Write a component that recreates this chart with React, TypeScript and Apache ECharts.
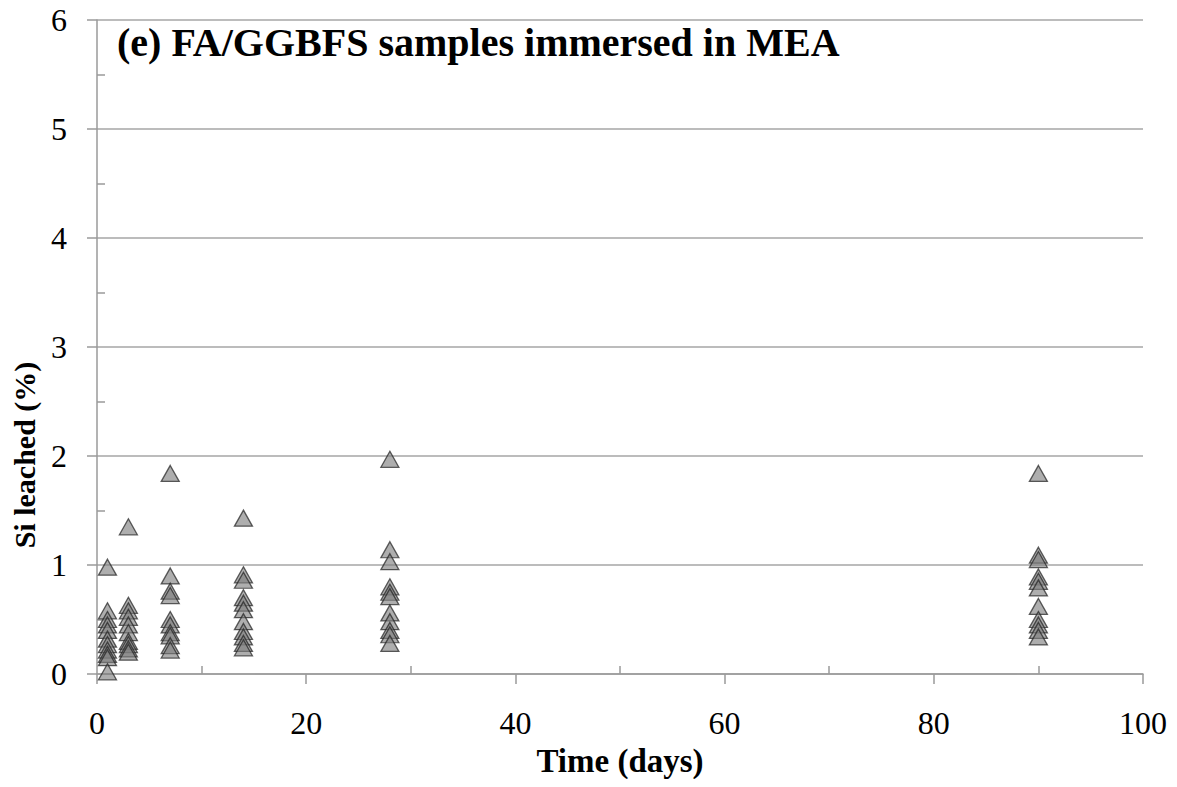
import React, { useEffect, useRef } from "react";
import * as echarts from "echarts";

const days = [1, 3, 7, 14, 28, 90];
const day1 = [0.98, 0.58, 0.5, 0.45, 0.4, 0.32, 0.27, 0.22, 0.18, 0.15, 0.02];
const day3 = [1.35, 0.63, 0.58, 0.52, 0.45, 0.38, 0.3, 0.27, 0.23, 0.2];
const day7 = [1.84, 0.9, 0.76, 0.72, 0.5, 0.45, 0.38, 0.35, 0.26, 0.22];
const day14 = [1.43, 0.91, 0.86, 0.7, 0.65, 0.59, 0.48, 0.39, 0.34, 0.28, 0.24];
const day28 = [1.97, 1.14, 1.03, 0.8, 0.75, 0.71, 0.56, 0.48, 0.4, 0.36, 0.28];
const day90 = [1.84, 1.09, 1.05, 0.89, 0.85, 0.79, 0.62, 0.5, 0.45, 0.4, 0.34];
const groups = [day1, day3, day7, day14, day28, day90];

const title = "(e) FA/GGBFS samples immersed in MEA";
const xName = "Time (days)";
const yName = "Si leached (%)";

export default function App() {
  const ref = useRef<HTMLDivElement>(null);
  useEffect(() => {
    if (!ref.current) return;
    const chart = echarts.init(ref.current, undefined, { renderer: "svg" });
    const data: number[][] = [];
    groups.forEach((g, i) => g.forEach((v) => data.push([days[i], v])));
    const serif = "'Liberation Serif', 'Times New Roman', serif";
    chart.setOption({
      animation: false,
      grid: { left: 97, right: 34, top: 20, bottom: 113 },
      graphic: [
        {
          type: "text",
          left: 117,
          top: 22,
          style: { text: title, font: `bold 40px ${serif}`, fill: "#000" },
        },
        {
          type: "text",
          x: 24,
          y: 455,
          rotation: Math.PI / 2,
          style: {
            text: yName,
            font: `bold 30px ${serif}`,
            fill: "#000",
            align: "center",
            verticalAlign: "middle",
          },
        },
      ],
      xAxis: {
        type: "value",
        min: 0,
        max: 100,
        interval: 20,
        name: xName,
        nameLocation: "middle",
        nameGap: 70,
        nameTextStyle: { fontFamily: serif, fontWeight: "bold", fontSize: 33, color: "#000" },
        axisLine: { show: true, lineStyle: { color: "#9a9a9a", width: 1.5 } },
        axisTick: { show: true, length: 10, lineStyle: { color: "#9a9a9a", width: 1.5 } },
        minorTick: { show: true, splitNumber: 2, length: -8, lineStyle: { color: "#9a9a9a", width: 1.5 } },
        axisLabel: { fontFamily: serif, fontSize: 32, color: "#000", margin: 33 },
        splitLine: { show: false },
      },
      yAxis: {
        type: "value",
        min: 0,
        max: 6,
        interval: 1,
        axisLine: { show: true, lineStyle: { color: "#9a9a9a", width: 1.5 } },
        axisTick: { show: true, length: 10, lineStyle: { color: "#9a9a9a", width: 1.5 } },
        minorTick: { show: true, splitNumber: 2, length: -8, lineStyle: { color: "#9a9a9a", width: 1.5 } },
        axisLabel: { fontFamily: serif, fontSize: 32, color: "#000", margin: 30 },
        splitLine: { show: true, lineStyle: { color: "#a6a6a6", width: 1.5 } },
      },
      series: [
        {
          type: "scatter",
          data,
          symbol: "triangle",
          symbolSize: [18, 16],
          itemStyle: {
            color: "rgba(125,125,125,0.78)",
            borderColor: "rgba(35,35,35,0.9)",
            borderWidth: 1.3,
          },
        },
      ],
    });
    return () => chart.dispose();
  }, []);
  return <div ref={ref} style={{ width: 1177, height: 787, margin: -8 }} />;
}
